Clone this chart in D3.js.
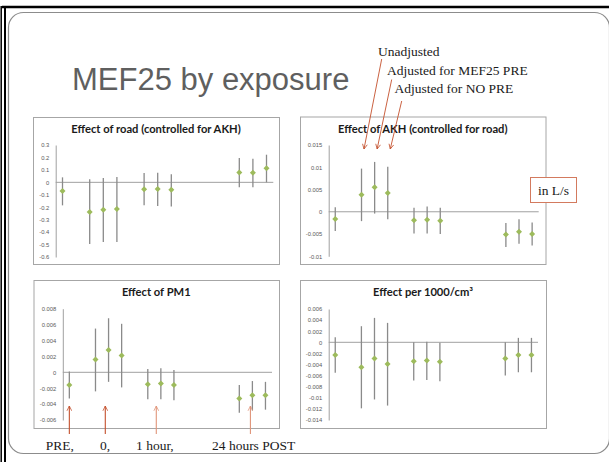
<!DOCTYPE html>
<html>
<head>
<meta charset="utf-8">
<script src="https://cdn.jsdelivr.net/npm/d3@7"></script>
<style>
body { margin: 0; background: #fff; }
svg { display: block; }
</style>
</head>
<body>
<script>
// x slots (16 per chart, gaps between the time groups)
var slots = [0, 2, 3, 4, 6, 7, 8, 13, 14, 15];
var groups = ["PRE", "0", "1 hour", "24 hours POST"];
var models = ["Unadjusted", "Adjusted for MEF25 PRE", "Adjusted for NO PRE"];

// Effect of road (controlled for AKH)
var roadEst = [-0.07, -0.238, -0.22, -0.215, -0.056, -0.054, -0.059, 0.08, 0.078, 0.113];
var roadLo  = [-0.185, -0.495, -0.48, -0.48, -0.185, -0.19, -0.195, -0.04, -0.04, 0.0];
var roadHi  = [0.04, 0.024, 0.035, 0.042, 0.075, 0.078, 0.064, 0.196, 0.19, 0.222];
var roadTicks = [0.3, 0.2, 0.1, 0, -0.1, -0.2, -0.3, -0.4, -0.5, -0.6];

// Effect of AKH (controlled for road)
var akhEst = [-0.0016, 0.0038, 0.0055, 0.0042, -0.0019, -0.0018, -0.002, -0.0051, -0.0045, -0.005];
var akhLo  = [-0.0043, -0.0021, -0.0004, -0.0017, -0.0049, -0.0049, -0.005, -0.0079, -0.0072, -0.0076];
var akhHi  = [0.001, 0.0097, 0.0112, 0.0101, 0.0009, 0.0012, 0.0009, -0.0025, -0.0017, -0.0024];
var akhTicks = [0.015, 0.01, 0.005, 0, -0.005, -0.01];

// Effect of PM1
var pmEst = [-0.0016, 0.0016, 0.0028, 0.0021, -0.0015, -0.0014, -0.0016, -0.0033, -0.0029, -0.0029];
var pmLo  = [-0.0033, -0.0024, -0.0012, -0.0019, -0.0034, -0.0034, -0.0035, -0.0051, -0.0048, -0.0047];
var pmHi  = [0.0001, 0.0055, 0.0068, 0.0061, 0.0004, 0.0005, 0.0003, -0.0016, -0.0011, -0.0012];
var pmTicks = [0.008, 0.006, 0.004, 0.002, 0, -0.002, -0.004, -0.006];

// Effect per 1000/cm3
var pncEst = [-0.0023, -0.0045, -0.0029, -0.0039, -0.0034, -0.0033, -0.0035, -0.0029, -0.0023, -0.0023];
var pncLo  = [-0.0055, -0.0119, -0.0103, -0.0114, -0.0069, -0.0068, -0.007, -0.006, -0.0054, -0.0054];
var pncHi  = [0.0009, 0.0029, 0.0044, 0.0035, 0.0, 0.0001, -0.0001, 0.0, 0.0008, 0.0008];
var pncTicks = [0.006, 0.004, 0.002, 0, -0.002, -0.004, -0.006, -0.008, -0.01, -0.012, -0.014];

var svg = d3.select("body").append("svg")
    .attr("width", 609)
    .attr("height", 462);

// slide frame
svg.append("line").attr("x1", 2).attr("x2", 609).attr("y1", 7).attr("y2", 7)
    .attr("stroke", "#000").attr("stroke-width", 2.5);
svg.append("line").attr("x1", 1.2).attr("x2", 1.2).attr("y1", 6).attr("y2", 462)
    .attr("stroke", "#000").attr("stroke-width", 1.5);
svg.append("line").attr("x1", 5).attr("x2", 5).attr("y1", 6).attr("y2", 462)
    .attr("stroke", "#000").attr("stroke-width", 2);
svg.append("rect")
    .attr("x", 8.5).attr("y", 12.5).attr("width", 601).attr("height", 441).attr("rx", 15)
    .attr("fill", "none").attr("stroke", "#8c8c8c").attr("stroke-width", 1.2);

// slide title
svg.append("text")
    .attr("x", 72).attr("y", 90)
    .attr("font-family", "Liberation Sans, Arial, sans-serif")
    .attr("font-size", 31)
    .attr("fill", "#5f5f5f")
    .text("MEF25 by exposure");

var panels = [
    {title: "Effect of road (controlled for AKH)", est: roadEst, lo: roadLo, hi: roadHi, ticks: roadTicks,
     box: [33, 117, 279, 264], x0: 55.7, x1: 273.3, yTop: 145, yBot: 257, ty: 133},
    {title: "Effect of AKH (controlled for road)", est: akhEst, lo: akhLo, hi: akhHi, ticks: akhTicks,
     box: [300, 116.5, 545.5, 264], x0: 328.7, x1: 538.7, yTop: 145, yBot: 256.3, ty: 133},
    {title: "Effect of PM1", est: pmEst, lo: pmLo, hi: pmHi, ticks: pmTicks,
     box: [33.5, 280, 279, 428], x0: 62.8, x1: 272, yTop: 308.7, yBot: 420, ty: 296},
    {title: "Effect per 1000/cm\u00b3", est: pncEst, lo: pncLo, hi: pncHi, ticks: pncTicks,
     box: [300, 280, 546, 428], x0: 328.7, x1: 538, yTop: 309, yBot: 420, ty: 296}
];

var fmt = function(d) { return String(+d.toFixed(4)); };

panels.forEach(function(p) {
    var g = svg.append("g");

    g.append("rect")
        .attr("x", p.box[0] + 0.5).attr("y", p.box[1] + 0.5)
        .attr("width", p.box[2] - p.box[0]).attr("height", p.box[3] - p.box[1])
        .attr("fill", "#fff").attr("stroke", "#a6a6a6").attr("stroke-width", 1);

    g.append("text")
        .attr("x", (p.box[0] + p.box[2]) / 2).attr("y", p.ty)
        .attr("text-anchor", "middle")
        .attr("font-family", "Lato, Open Sans, sans-serif")
        .attr("font-weight", "bold")
        .attr("font-size", 11.2)
        .attr("fill", "#1a1a1a")
        .text(p.title);

    var x = d3.scaleBand().domain(d3.range(16)).range([p.x0, p.x1]);
    var y = d3.scaleLinear()
        .domain([d3.min(p.ticks), d3.max(p.ticks)])
        .range([p.yBot, p.yTop]);
    p.x = x;

    // Y axis
    var ax = g.append("g")
        .attr("transform", "translate(" + p.x0 + ",0)")
        .call(d3.axisLeft(y).tickValues(p.ticks).tickFormat(fmt).tickSize(0).tickSizeOuter(0).tickPadding(6.5));
    ax.select(".domain").attr("stroke", "#a0a0a0");
    ax.selectAll("text")
        .attr("font-family", "Liberation Sans, Arial, sans-serif")
        .attr("font-size", 5.8)
        .attr("fill", "#595959");

    // zero line
    g.append("line")
        .attr("x1", p.x0).attr("x2", p.x1)
        .attr("y1", y(0)).attr("y2", y(0))
        .attr("stroke", "#a0a0a0").attr("stroke-width", 1);

    var pts = slots.map(function(s, i) {
        return {slot: s, est: p.est[i], lo: p.lo[i], hi: p.hi[i]};
    });

    // error bars
    g.selectAll(".err").data(pts).enter().append("line")
        .attr("class", "err")
        .attr("x1", function(d) { return x(d.slot) + x.bandwidth() / 2; })
        .attr("x2", function(d) { return x(d.slot) + x.bandwidth() / 2; })
        .attr("y1", function(d) { return y(d.lo); })
        .attr("y2", function(d) { return y(d.hi); })
        .attr("stroke", "#8a8a8a").attr("stroke-width", 1.3);

    // estimates
    g.selectAll(".pt").data(pts).enter().append("path")
        .attr("class", "pt")
        .attr("d", d3.symbol(d3.symbolSquare, 18))
        .attr("transform", function(d) {
            return "translate(" + (x(d.slot) + x.bandwidth() / 2) + "," + y(d.est) + ") rotate(45)";
        })
        .attr("fill", "#9dbb5c");
});

// annotations
var red = "#c4502d";
var defs = svg.append("defs");
function arrowHead(id, col) {
    defs.append("marker")
        .attr("id", id)
        .attr("viewBox", "0 0 10 10")
        .attr("refX", 9).attr("refY", 5)
        .attr("markerUnits", "userSpaceOnUse")
        .attr("markerWidth", 6).attr("markerHeight", 6)
        .attr("orient", "auto")
        .append("path")
        .attr("d", "M1,1 L9,5 L1,9")
        .attr("fill", "none").attr("stroke", col).attr("stroke-width", 1.3);
}
arrowHead("ah", red);
arrowHead("ah2", "#e0957a");

var serif = "Liberation Serif, Times New Roman, serif";
var modelPos = [[378, 56], [387, 74.5], [394.5, 93]];
var modelFrom = [[381.7, 59], [391.7, 79.5], [401.7, 101]];
var akh = panels[1];
models.forEach(function(m, i) {
    svg.append("text")
        .attr("x", modelPos[i][0]).attr("y", modelPos[i][1])
        .attr("font-family", serif).attr("font-size", 13.5)
        .attr("fill", "#1a1a1a")
        .text(m);
    var tx = akh.x(slots[i + 1]) + akh.x.bandwidth() / 2 + 2.5;
    svg.append("line")
        .attr("x1", modelFrom[i][0]).attr("y1", modelFrom[i][1])
        .attr("x2", tx).attr("y2", 149)
        .attr("stroke", red).attr("stroke-width", 0.9)
        .attr("marker-end", "url(#ah)");
});

// unit box
svg.append("rect")
    .attr("x", 530.5).attr("y", 177.5).attr("width", 46).attr("height", 25)
    .attr("fill", "#fff").attr("stroke", "#d37a5e").attr("stroke-width", 1);
svg.append("text")
    .attr("x", 553.5).attr("y", 194.5)
    .attr("text-anchor", "middle")
    .attr("font-family", serif).attr("font-size", 13.5)
    .attr("fill", "#1a1a1a")
    .text("in L/s");

// time group labels under the PM1 chart
var pm = panels[2];
var groupSlot = [0, 2.75, 6.65, 13.85];
var groupText = [45.7, 100, 136, 212];
groups.forEach(function(gname, i) {
    var ax = pm.x0 + (groupSlot[i] + 0.5) * pm.x.bandwidth();
    svg.append("line")
        .attr("x1", ax).attr("x2", ax)
        .attr("y1", 434).attr("y2", 406)
        .attr("stroke", i < 2 ? red : "#e0957a").attr("stroke-width", 1.1)
        .attr("marker-end", i < 2 ? "url(#ah)" : "url(#ah2)");
    svg.append("text")
        .attr("x", groupText[i]).attr("y", 450)
        .attr("font-family", serif).attr("font-size", 13.5)
        .attr("fill", "#1a1a1a")
        .text(i < 3 ? gname + "," : gname);
});
</script>
</body>
</html>
